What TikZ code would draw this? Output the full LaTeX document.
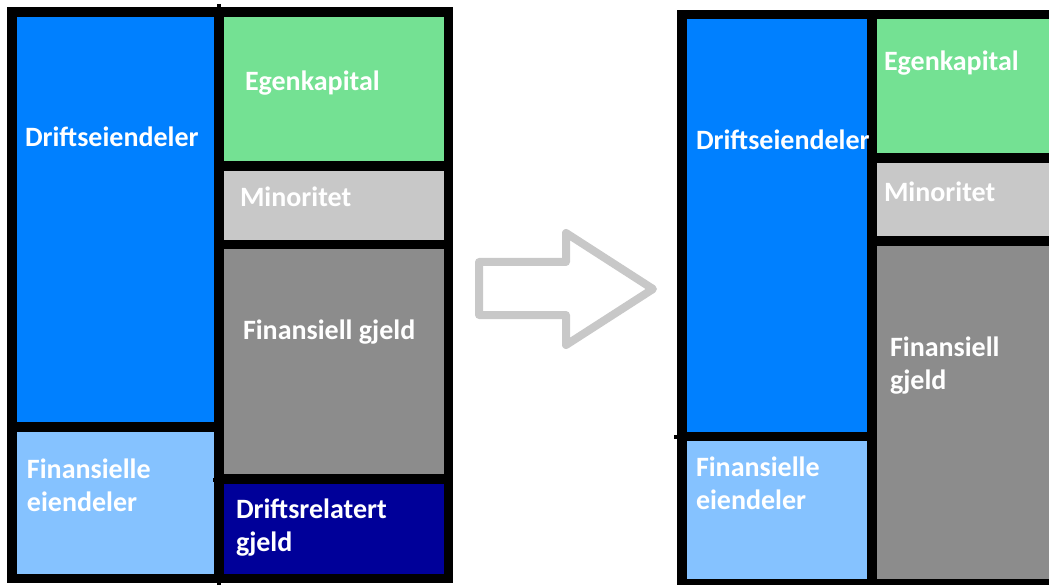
\documentclass[tikz,border=0pt]{standalone}
\usepackage{fontspec}
\setmainfont{Carlito}
\definecolor{opblue}{HTML}{0080FF}
\definecolor{finblue}{HTML}{85C2FF}
\definecolor{eqgreen}{HTML}{74E193}
\definecolor{minogray}{HTML}{C8C8C8}
\definecolor{debtgray}{HTML}{8C8C8C}
\definecolor{opdebt}{HTML}{000099}
\definecolor{arrowgray}{HTML}{C8C8C8}
\begin{document}
\begin{tikzpicture}[x=1pt,y=-1pt,
  frame/.style={fill=black,draw=none,inner sep=0pt,outer sep=0pt,anchor=north west},
  box/.style={draw=none,inner sep=0pt,outer sep=0pt,anchor=north west},
  lbl/.style={text=white,inner sep=0pt,outer sep=0pt,anchor=base west,
    font=\fontsize{28}{33}\selectfont\bfseries}]
\useasboundingbox (0,0) rectangle (1049,585);

% ---- balance sheet before ----
\node[frame,minimum width=446pt,minimum height=576pt] (lframe) at (7,7) {};
\node[box,fill=opblue,minimum width=197pt,minimum height=405pt] (ldrift) at (17,17) {};
\node[box,fill=finblue,minimum width=197pt,minimum height=142pt] (lfin) at (17,432) {};
\node[box,fill=eqgreen,minimum width=220pt,minimum height=144pt] (lek) at (224,17) {};
\node[box,fill=minogray,minimum width=220pt,minimum height=69pt] (lmin) at (224,171) {};
\node[box,fill=debtgray,minimum width=220pt,minimum height=225pt] (lfg) at (224,249) {};
\node[box,fill=opdebt,minimum width=220pt,minimum height=90pt] (ldrg) at (224,484) {};
\coordinate (ltop) at (219,4);
\coordinate (lbot) at (219,585);
\draw[line width=4pt] (ltop) -- (lbot);
\coordinate (lnub) at (213,480);
\draw[line width=4pt] (lnub) -- ++(3,0);

\node[lbl] (ldrift-t) at (25,147) {Driftseiendeler};
\node[lbl] (lek-t) at (245,91) {Egenkapital};
\node[lbl] (lmin-t) at (240,207) {Minoritet};
\node[lbl] (lfg-t) at (243,339) {Finansiell gjeld};
\node[lbl] (lfin-t) at (27,478) {\parbox[t]{180pt}{Finansielle\\eiendeler}};
\node[lbl] (ldrg-t) at (236,518) {\parbox[t]{200pt}{Driftsrelatert\\gjeld}};

% ---- transition arrow ----
\draw[arrowgray,line width=8pt,line join=round]
  (479,262) -- (566,262) -- (566,233) -- (653,289) -- (566,345) -- (566,315) -- (479,315) -- cycle;

% ---- balance sheet after ----
\node[frame,minimum width=380pt,minimum height=580pt] (rframe) at (677,10) {};
\node[box,fill=opblue,minimum width=180pt,minimum height=413pt] (rdrift) at (687,19) {};
\node[box,fill=finblue,minimum width=180pt,minimum height=138pt] (rfin) at (687,441) {};
\node[box,fill=eqgreen,minimum width=180pt,minimum height=134pt] (rek) at (877,19) {};
\node[box,fill=minogray,minimum width=180pt,minimum height=73pt] (rmin) at (877,163) {};
\node[box,fill=debtgray,minimum width=180pt,minimum height=333pt] (rfg) at (877,246) {};
\coordinate (rtick) at (674,436.5);
\draw[line width=4pt] (rtick) -- ++(5,0);

\node[lbl] (rdrift-t) at (696,150) {Driftseiendeler};
\node[lbl] (rek-t) at (884,71) {Egenkapital};
\node[lbl] (rmin-t) at (884,202) {Minoritet};
\node[lbl] (rfg-t) at (890,356) {\parbox[t]{150pt}{Finansiell\\gjeld}};
\node[lbl] (rfin-t) at (696,476) {\parbox[t]{170pt}{Finansielle\\eiendeler}};
\end{tikzpicture}
\end{document}
